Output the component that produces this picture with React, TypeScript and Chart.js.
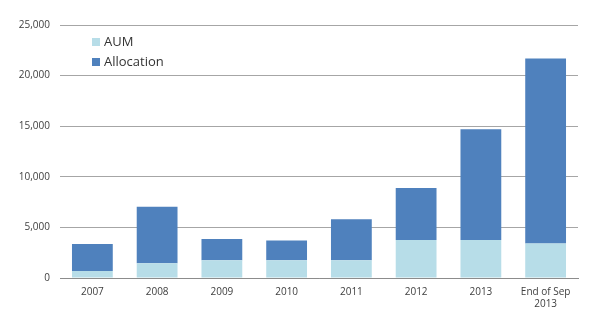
import React, { useEffect, useRef } from "react";
import { Chart, registerables } from "chart.js";

Chart.register(...registerables);

const categories: (string | string[])[] = ["2007", "2008", "2009", "2010", "2011", "2012", "2013", ["End of Sep", "2013"]];
const aumValues = [700, 1450, 1750, 1750, 1750, 3750, 3750, 3400];
const allocationValues = [2650, 5600, 2100, 1950, 4050, 5150, 10950, 18300];
const yTicks = [0, 5000, 10000, 15000, 20000, 25000];

const insideLegend = {
  id: "insideLegend",
  afterDraw(chart: any) {
    const ctx = chart.ctx;
    const x0 = chart.chartArea.left + 32;
    let y = chart.chartArea.top + 17;
    ctx.save();
    ctx.font = "13px 'Open Sans', sans-serif";
    ctx.textBaseline = "middle";
    chart.data.datasets.forEach((ds: any) => {
      ctx.fillStyle = ds.backgroundColor;
      ctx.fillRect(x0, y - 4, 8, 8);
      ctx.fillStyle = "#333333";
      ctx.fillText(ds.label, x0 + 12, y);
      y += 20;
    });
    ctx.restore();
  },
};

export default function App() {
  const ref = useRef<HTMLCanvasElement>(null);
  useEffect(() => {
    if (!ref.current) return;
    const chart = new Chart(ref.current, {
      type: "bar",
      data: {
        labels: categories as any,
        datasets: [
          { label: "AUM", data: aumValues, backgroundColor: "#b7dde8", barPercentage: 0.63, categoryPercentage: 1 },
          { label: "Allocation", data: allocationValues, backgroundColor: "#4f81bd", barPercentage: 0.63, categoryPercentage: 1 },
        ],
      },
      options: {
        animation: false,
        responsive: false,
        layout: { padding: { left: 0, right: 22, top: 25, bottom: 0 } },
        plugins: { legend: { display: false }, tooltip: { enabled: false } },
        scales: {
          x: {
            stacked: true,
            grid: { display: false, drawTicks: false },
            border: { display: true, color: "#8c8c8c" },
            ticks: { color: "#404040", font: { family: "'Open Sans', sans-serif", size: 10 }, padding: 8, maxRotation: 0 },
            afterFit: (s: any) => { s.height = 50; },
          },
          y: {
            stacked: true,
            min: 0,
            max: 25000,
            afterBuildTicks: (s: any) => { s.ticks = yTicks.map((v) => ({ value: v })); },
            grid: { color: "#a6a6a6", drawTicks: false },
            border: { display: false },
            ticks: {
              color: "#404040",
              font: { family: "'Open Sans', sans-serif", size: 10 },
              padding: 10,
              callback: (v: any) => Number(v).toLocaleString("en-US"),
            },
            afterFit: (s: any) => { s.width = 60; },
          },
        },
      },
      plugins: [insideLegend],
    });
    return () => chart.destroy();
  }, []);
  return (
    <div style={{ position: "fixed", left: 0, top: 0, width: 600, height: 328, background: "#fff" }}>
      <canvas ref={ref} width={600} height={328} />
    </div>
  );
}
